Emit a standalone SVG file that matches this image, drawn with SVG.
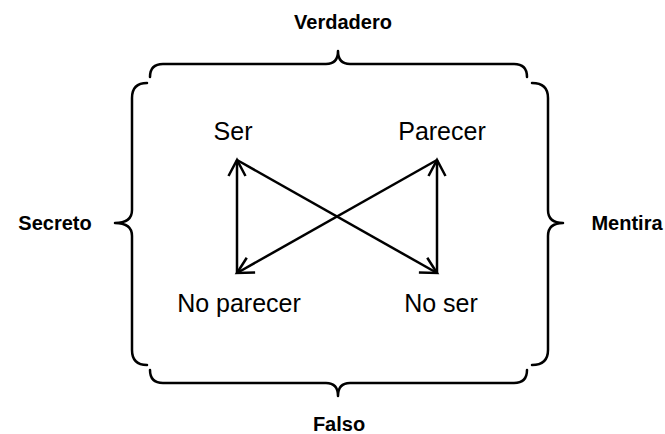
<svg xmlns="http://www.w3.org/2000/svg" width="665" height="434" viewBox="0 0 665 434">
<defs>
<style>
.brace{fill:none;stroke:#000;stroke-width:2.5;stroke-linecap:round;stroke-linejoin:round}
.conn{fill:none;stroke:#000;stroke-width:2.5}
.lbl{font-family:"Liberation Sans",Arial,sans-serif;font-size:25px;fill:#000;text-anchor:middle}
.side{font-family:"Liberation Sans",Arial,sans-serif;font-size:20px;font-weight:bold;fill:#000;text-anchor:middle}
</style>
<marker id="ah" markerUnits="userSpaceOnUse" markerWidth="24" markerHeight="24" viewBox="-20 -12 24 24" refX="0" refY="0" orient="auto">
<path d="M-16,-8.5 L0,0 L-16,8.5" fill="none" stroke="#000" stroke-width="2.5"/>
</marker>
</defs>
<rect width="665" height="434" fill="#fff"/>
<g id="braces">
<path id="brace-top" class="brace" d="M150,77 Q150,64 163,64 L326,64 Q338,64 338,51 Q338,64 350,64 L514,64 Q527,64 527,77"/>
<path id="brace-left" class="brace" d="M147,83 Q132,83 132,98 L132,210 Q132,223 115,223 Q132,223 132,236 L132,350 Q132,365 147,365"/>
<path id="brace-right" class="brace" d="M532,83 Q548,83 548,98 L548,210 Q548,223 563,223 Q548,223 548,236 L548,350 Q548,365 532,365"/>
<path id="brace-bottom" class="brace" d="M150,370 Q150,383 163,383 L326,383 Q338,383 338,396 Q338,383 350,383 L514,383 Q527,383 527,370"/>
</g>
<g id="verdadero"><text class="side" x="343" y="29">Verdadero</text></g>
<g id="secreto"><text class="side" x="55" y="230">Secreto</text></g>
<g id="mentira"><text class="side" x="627" y="230">Mentira</text></g>
<g id="falso"><text class="side" x="339" y="431">Falso</text></g>
<g id="ser"><text class="lbl" x="233" y="140">Ser</text></g>
<g id="parecer"><text class="lbl" x="442" y="140">Parecer</text></g>
<g id="no-parecer"><text class="lbl" x="239" y="312">No parecer</text></g>
<g id="no-ser"><text class="lbl" x="441" y="312">No ser</text></g>
<g id="connectors">
<path class="conn" d="M237,273 L237,160" marker-end="url(#ah)"/>
<path class="conn" d="M437,273 L437,160" marker-end="url(#ah)"/>
<path class="conn" d="M237,160 L437,273" marker-end="url(#ah)"/>
<path class="conn" d="M437,160 L237,273" marker-end="url(#ah)"/>
</g>
</svg>
